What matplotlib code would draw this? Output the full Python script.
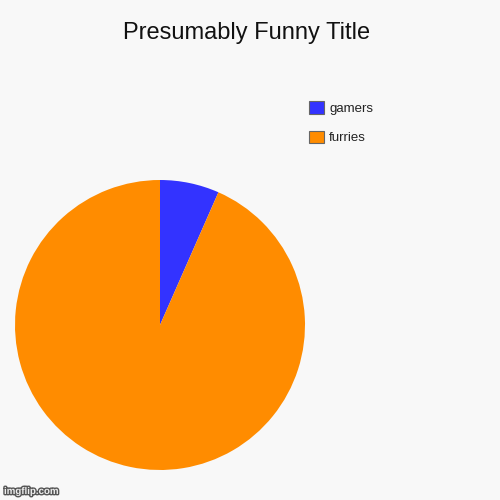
import matplotlib
matplotlib.use("Agg")
import matplotlib.pyplot as plt
import matplotlib.patheffects as pe
from matplotlib.patches import Patch

labels = ["gamers", "furries"]
values = [6.6, 93.4]
colors = ["#3333ff", "#ff8c00"]

plt.rcParams["font.family"] = ["Liberation Sans", "DejaVu Sans"]

fig = plt.figure(figsize=(5, 5), dpi=100, facecolor="#f8f8f8")
ax = fig.add_axes([0.03, 0.06, 0.58, 0.58])
ax.set_facecolor("#f8f8f8")
ax.pie(values, colors=colors, startangle=90, counterclock=False,
       radius=1.0, wedgeprops=dict(linewidth=0))
ax.set_aspect("equal")
ax.set_xlim(-1, 1)
ax.set_ylim(-1, 1)
ax.axis("off")

fig.text(0.494, 0.935, "Presumably Funny Title", ha="center", va="center",
         fontsize=17, color="#111111")

handles = [Patch(facecolor=c, edgecolor="#666666", linewidth=0.8) for c in colors]
fig.legend(handles, labels, loc="upper left", bbox_to_anchor=(0.595, 0.822),
           frameon=False, fontsize=9.5, handlelength=1.1, handleheight=1.1,
           handletextpad=0.4, labelspacing=1.2, labelcolor="#222222")

fig.text(0.008, 0.018, "imgflip.com", ha="left", va="center", fontsize=7,
         fontweight="bold", color="#eeeeee",
         path_effects=[pe.withStroke(linewidth=2, foreground="#555555")])

fig.savefig("out.png", dpi=100, facecolor=fig.get_facecolor())
